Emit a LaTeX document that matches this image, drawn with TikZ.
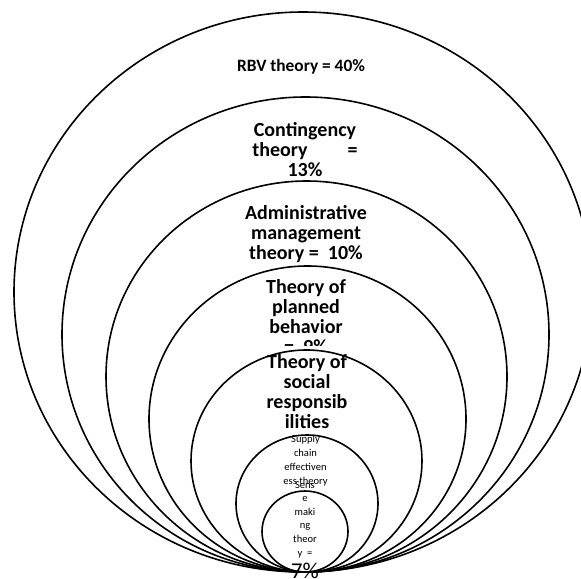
\documentclass[tikz,border=0pt]{standalone}
\usepackage{fontspec}
\setmainfont{Carlito}
\begin{document}
\begin{tikzpicture}[x=0.75pt, y=-0.75pt,
  ring/.style={line width=1.2pt},
  bigtxt/.style={font=\fontsize{15}{15}\selectfont\bfseries, align=center, inner sep=0pt, anchor=north},
  smalltxt/.style={font=\fontsize{7.9}{10.5}\selectfont, align=center, inner sep=0pt, anchor=north}]
\clip (0,0) rectangle (581,578);

% labels, outer ring first
\node[font=\fontsize{13}{14}\selectfont\bfseries, anchor=base] (rbv) at (301,71) {RBV theory = 40\%};
\node[bigtxt] (conting) at (305,122) {Contingency\\theory\hspace{2em}=\\13\%};
\node[bigtxt] (admin) at (306,205) {Administrative\\management\\theory =\ \ 10\%};
\node[bigtxt] (planned) at (306,279) {Theory of\\planned\\behavior\\=\ \ 9\%};
\node[bigtxt, fill=white, inner ysep=6pt] (social) at (307,346) {Theory of\\social\\responsib\\ilities};
\node[smalltxt] (supply) at (305.5,435) {Supply\\chain\\effectiven\\ess theory};
\node[smalltxt, font=\fontsize{7.9}{10.2}\selectfont] (sense) at (305,481)
  {Sens\\e\\maki\\ng\\theor\\y\ \ =\\[3pt]{\fontsize{17}{15}\selectfont 7\%}};

% rings, all touching at the bottom
\foreach \cx/\rx/\ry in {303/289/280, 305.5/243.5/237.5, 306.5/200.5/195.5,
    307.5/158.5/153, 306.5/115.5/111, 307/71/68.5, 305/43/40.5}
  \draw[ring] (\cx,572-\ry) ellipse [x radius=\rx*0.75pt, y radius=\ry*0.75pt];
\end{tikzpicture}
\end{document}
